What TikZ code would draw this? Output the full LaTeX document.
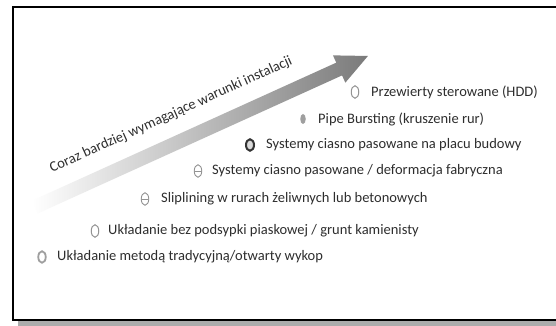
\documentclass[tikz,border=0pt]{standalone}
\usepackage{fontspec}
\setmainfont{Carlito}
\usetikzlibrary{shapes.geometric}
\definecolor{txtgray}{HTML}{2E2E2E}
\begin{document}
\begin{tikzpicture}[x=1pt,y=1pt,
  lbl/.style={anchor=west, inner sep=0pt, text=txtgray, font=\fontsize{14.5}{17}\selectfont},
  pipeicon/.style={ellipse, inner sep=0pt, minimum width=7.5pt, minimum height=12.5pt},
  hollowicon/.style={pipeicon, draw=gray!85, line width=1pt, fill=white},
  filledicon/.style={pipeicon, minimum width=5.5pt, minimum height=10pt, fill=gray!75},
  darkicon/.style={pipeicon, minimum width=8pt, minimum height=11.5pt, draw=black!80, line width=2pt, fill=gray!30},
  ringicon/.style={pipeicon, minimum height=11.5pt, draw=gray!75, line width=1.8pt, fill=white},
  eighticon/.style={pipeicon, draw=gray!85, line width=0.9pt, fill=white,
    path picture={\draw[gray!85, line width=0.8pt] (path picture bounding box.west) -- (path picture bounding box.east);}}
]
\useasboundingbox (0,0) rectangle (556,326);
% frame with shadow
\fill[gray!65] (18,0) rectangle (600,314);
\draw[black, line width=1.6pt, fill=white] (13,6) rectangle (600,319);

% arrow
\coordinate (tail) at (35,119);
\coordinate (tip) at (368,270);
\begin{scope}[shift={(tail)}, rotate=24.4]
\shade[left color=white, right color=black!52]
  (0,-7) -- (334,-7) -- (334,-15) -- (365.6,0) -- (334,15) -- (334,7) -- (0,7) -- cycle;
\end{scope}
\node[lbl, anchor=center, rotate=24.3] (arrowlabel) at (171,211) {Coraz bardziej wymagające warunki instalacji};

% items
\node[hollowicon] (i1) at (355,234) {};
\node[lbl] (t1) at (371,234) {Przewierty sterowane (HDD)};
\node[filledicon] (i2) at (303,207) {};
\node[lbl] (t2) at (318,207) {Pipe Bursting (kruszenie rur)};
\node[darkicon] (i3) at (250,181) {};
\node[lbl] (t3) at (266,181) {Systemy ciasno pasowane na placu budowy};
\node[eighticon] (i4) at (198,155) {};
\node[lbl] (t4) at (212,155) {Systemy ciasno pasowane / deformacja fabryczna};
\node[eighticon] (i5) at (145,127) {};
\node[lbl] (t5) at (161,127) {Sliplining w rurach żeliwnych lub betonowych};
\node[hollowicon] (i6) at (95,95) {};
\node[lbl] (t6) at (108,95) {Układanie bez podsypki piaskowej / grunt kamienisty};
\node[ringicon] (i7) at (42,69) {};
\node[lbl] (t7) at (57,69) {Układanie metodą tradycyjną/otwarty wykop};
\end{tikzpicture}
\end{document}
